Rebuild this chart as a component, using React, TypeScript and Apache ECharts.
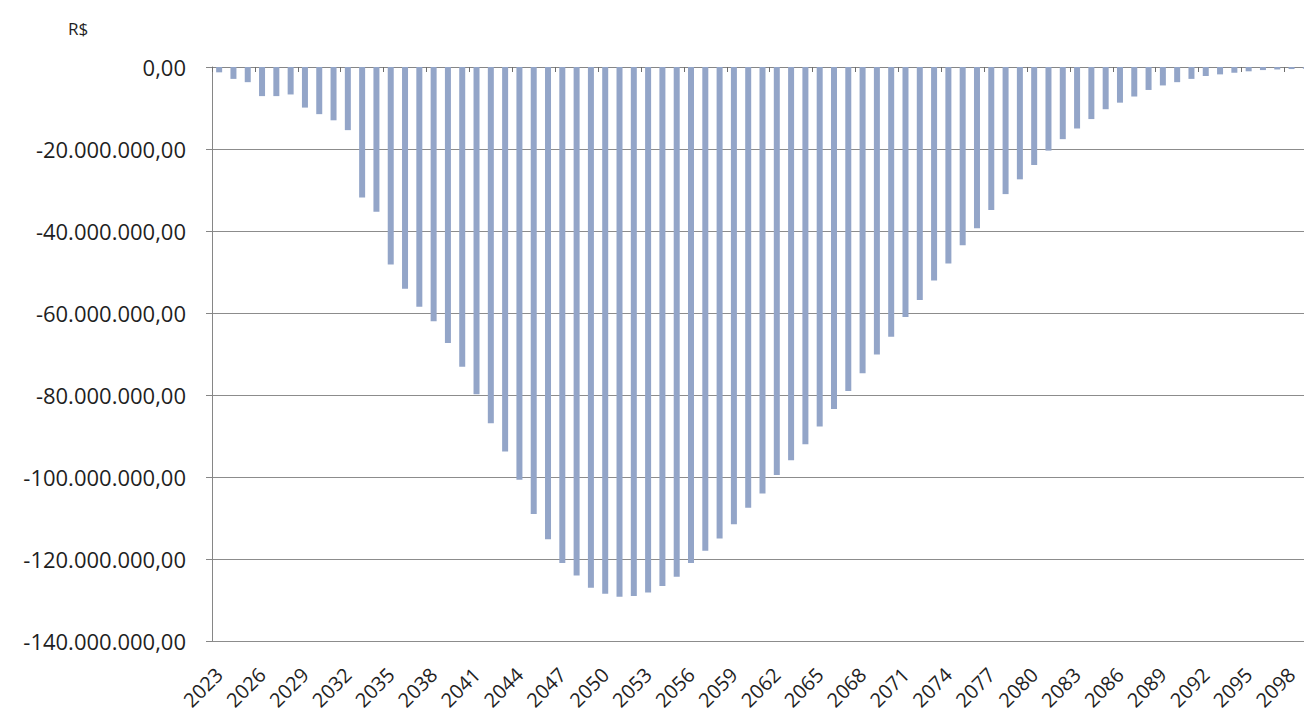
import React, { useEffect, useRef } from "react";
import * as echarts from "echarts";

// Years of the projection
const years: string[] = [];
for (let y = 2023; y <= 2099; y++) years.push(String(y));

// Yearly result, in millions of R$ (negative = deficit)
const resultMillions: number[] = [
  -1.3, -2.9, -3.7, -7.1, -7.1, -6.7, -9.9, -11.5, -13.0, -15.4,
  -31.8, -35.3, -48.2, -54.1, -58.5, -62.0, -67.3, -73.1, -79.8, -86.9,
  -93.8, -100.7, -109.0, -115.2, -121.0, -124.0, -127.0, -128.5, -129.2, -129.0,
  -128.2, -126.6, -124.3, -121.0, -118.0, -115.0, -111.5, -107.5, -104.0, -99.5,
  -95.9, -92.0, -87.7, -83.4, -79.0, -74.7, -70.1, -65.8, -61.0, -56.8,
  -52.1, -47.9, -43.5, -39.3, -34.9, -31.0, -27.4, -23.9, -20.4, -17.6,
  -15.0, -12.7, -10.3, -8.7, -7.2, -5.6, -4.5, -3.7, -2.9, -2.2,
  -1.8, -1.4, -1.05, -0.75, -0.6, -0.5, -0.4,
];

const yMin = -140000000;
const yMax = 0;
const yStep = 20000000;

const FONT = "'Open Sans', 'Noto Sans', sans-serif";

function formatBRL(v: number): string {
  const parts = Math.abs(v).toFixed(2).split(".");
  const intPart = parts[0].replace(/\B(?=(\d{3})+(?!\d))/g, ".");
  return (v < 0 ? "-" : "") + intPart + "," + parts[1];
}

export default function App() {
  const ref = useRef<HTMLDivElement>(null);

  useEffect(() => {
    if (!ref.current) return;
    const chart = echarts.init(ref.current, undefined, { renderer: "svg" });
    const values = resultMillions.map((m) => Math.round(m * 1000000));

    chart.setOption({
      animation: false,
      backgroundColor: "#ffffff",
      textStyle: { fontFamily: FONT },
      grid: {
        left: 212,
        right: -9,
        top: 67,
        bottom: 74,
        containLabel: false,
        outerBoundsMode: "none",
      },
      graphic: [
        {
          type: "text",
          left: 68,
          top: 20,
          style: { text: "R$", fontSize: 17, fontFamily: FONT, fill: "#1f1f1f" },
        },
      ],
      xAxis: [
        {
          type: "category",
          data: years,
          position: "bottom",
          axisLine: { show: false, onZero: false },
          axisTick: { show: false },
          axisLabel: {
            interval: 2,
            rotate: 45,
            margin: 30,
            fontSize: 20,
            color: "#1f1f1f",
            fontFamily: FONT,
          },
          splitLine: { show: false },
        },
        {
          type: "category",
          data: years,
          position: "top",
          axisLine: { show: true, onZero: false, lineStyle: { color: "#868686", width: 1 } },
          axisTick: { show: true, inside: true, length: 5, lineStyle: { color: "#6e6e6e" } },
          axisLabel: { show: false },
          splitLine: { show: false },
        },
      ],
      yAxis: {
        type: "value",
        min: yMin,
        max: yMax,
        interval: yStep,
        axisLine: { show: true, lineStyle: { color: "#868686", width: 1 } },
        axisTick: { show: true, length: 6, lineStyle: { color: "#868686" } },
        axisLabel: {
          formatter: (v: number) => formatBRL(v),
          fontSize: 22,
          margin: 26,
          color: "#1f1f1f",
          fontFamily: FONT,
        },
        splitLine: { show: true, lineStyle: { color: "#8c8c8c", width: 1 } },
      },
      series: [
        {
          type: "bar",
          xAxisIndex: 0,
          data: values,
          barWidth: 6,
          itemStyle: { color: "#93A5C8" },
        },
      ],
    });

    return () => chart.dispose();
  }, []);

  return (
    <div
      ref={ref}
      style={{ position: "absolute", left: 0, top: 0, width: 1304, height: 715 }}
    />
  );
}
